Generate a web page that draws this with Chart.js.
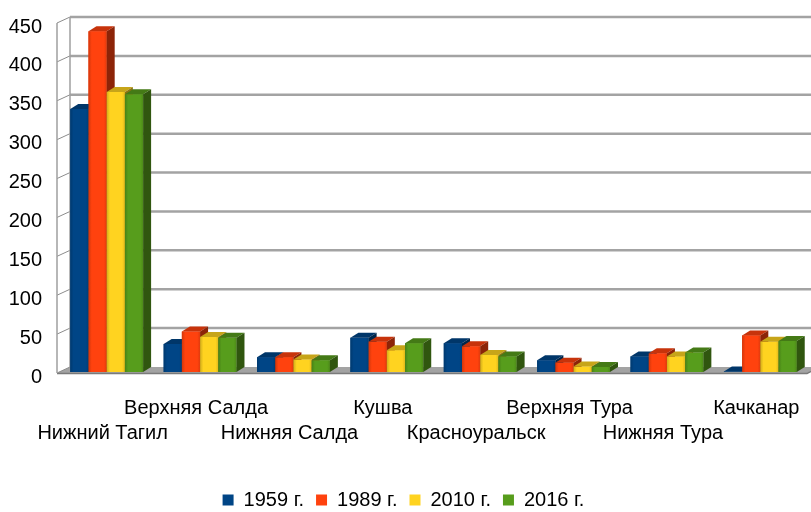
<!DOCTYPE html>
<html>
<head>
<meta charset="utf-8">
<script src="https://cdn.jsdelivr.net/npm/chart.js@4.4.1/dist/chart.umd.min.js"></script>
<style>
  html, body { margin: 0; padding: 0; background: #fff; overflow: hidden; }
  #wrap { width: 811px; height: 520px; }
</style>
</head>
<body>
<div id="wrap"><canvas id="chart"></canvas></div>
<script>
const categories = ['Нижний Тагил', 'Верхняя Салда', 'Нижняя Салда', 'Кушва',
  'Красноуральск', 'Верхняя Тура', 'Нижняя Тура', 'Качканар'];
const seriesNames = ['1959 г.', '1989 г.', '2010 г.', '2016 г.'];
const values1959 = [338, 36, 19, 44, 37, 15, 20, 0.5];
const values1989 = [438, 52, 19, 39, 33, 12, 24, 47];
const values2010 = [360, 45, 16, 28, 22, 7, 20, 39];
const values2016 = [357, 44, 15, 37, 20, 6.5, 25, 40];
const yMin = 0, yMax = 450, yStep = 50;

const colors = ['#004586', '#ff420e', '#ffd320', '#579d1c'];
const WALL = { x: 13, y: -6 };     // depth of the back wall
const BAR = { x: 8, y: -5 };       // depth of each bar

function shade(hex, f) {
  const n = parseInt(hex.slice(1), 16);
  const r = Math.round(((n >> 16) & 255) * f);
  const g = Math.round(((n >> 8) & 255) * f);
  const b = Math.round((n & 255) * f);
  return `rgb(${r},${g},${b})`;
}

function quad(ctx, pts) {
  ctx.beginPath();
  ctx.moveTo(pts[0], pts[1]);
  for (let i = 2; i < pts.length; i += 2) ctx.lineTo(pts[i], pts[i + 1]);
  ctx.closePath();
  ctx.fill();
}

// back wall, left wall and floor
const wallsPlugin = {
  id: 'walls',
  beforeDatasetsDraw(chart) {
    const { ctx, chartArea: a, scales: { y } } = chart;
    const fl = a.left - 3;                 // front left edge
    const bl = fl + WALL.x;                // back left edge
    const fy = v => y.getPixelForValue(v) + 1;
    const by = v => fy(v) + WALL.y;
    ctx.save();

    // floor
    ctx.fillStyle = '#a3a3a3';
    quad(ctx, [fl, fy(yMin), a.right, fy(yMin), a.right + WALL.x, by(yMin), bl, by(yMin)]);
    ctx.strokeStyle = '#7a7a7a';
    ctx.lineWidth = 1.5;
    ctx.beginPath();
    ctx.moveTo(fl, fy(yMin) + 0.5);
    ctx.lineTo(a.right, fy(yMin) + 0.5);
    ctx.lineTo(a.right + WALL.x, by(yMin));
    ctx.stroke();

    // grid on back wall and on left wall
    y.ticks.forEach(t => {
      const v = t.value;
      ctx.strokeStyle = '#a3a3a3';
      ctx.lineWidth = 2.5;
      if (v !== yMin) {
        ctx.beginPath();
        ctx.moveTo(bl, by(v));
        ctx.lineTo(chart.width, by(v));
        ctx.stroke();
      }
      ctx.strokeStyle = '#8c8c8c';
      ctx.lineWidth = 1;
      ctx.beginPath();
      ctx.moveTo(fl, fy(v));
      ctx.lineTo(bl, by(v));
      ctx.stroke();
    });

    // wall edges
    ctx.strokeStyle = '#a0a0a0';
    ctx.lineWidth = 1.5;
    ctx.beginPath();
    ctx.moveTo(fl, fy(yMax));
    ctx.lineTo(fl, fy(yMin));
    ctx.moveTo(bl, by(yMax));
    ctx.lineTo(bl, by(yMin));
    ctx.stroke();
    ctx.restore();
  }
};

// redraw bars as boxes, category by category so the faces overlap right
const barsPlugin = {
  id: 'bars3d',
  afterDatasetsDraw(chart) {
    const { ctx } = chart;
    const metas = chart.data.datasets.map((d, i) => chart.getDatasetMeta(i));
    ctx.save();
    for (let j = 0; j < categories.length; j++) {
      metas.forEach((meta, i) => {
        const bar = meta.data[j];
        if (!bar) return;
        const { x, y, base, width } = bar.getProps(['x', 'y', 'base', 'width'], true);
        const l = x - width / 2, r = x + width / 2;
        const c = colors[i];

        const g = ctx.createLinearGradient(l, 0, r, 0);
        g.addColorStop(0, shade(c, 0.82));
        g.addColorStop(0.18, c);
        g.addColorStop(0.85, c);
        g.addColorStop(1, shade(c, 0.88));
        ctx.fillStyle = g;
        ctx.fillRect(l, y, width, base - y);

        ctx.fillStyle = shade(c, 0.78);
        quad(ctx, [l, y, r, y, r + BAR.x, y + BAR.y, l + BAR.x, y + BAR.y]);

        ctx.fillStyle = shade(c, 0.55);
        quad(ctx, [r, y, r + BAR.x, y + BAR.y, r + BAR.x, base + BAR.y, r, base]);
      });
    }
    ctx.restore();
  }
};

function noPadding(scale) {
  scale.paddingTop = 0;
  scale.paddingBottom = 0;
  scale.paddingLeft = 0;
  scale.paddingRight = 0;
}

Chart.defaults.font.family = '"Liberation Sans", Arial, sans-serif';
Chart.defaults.color = '#000';

const seriesValues = [values1959, values1989, values2010, values2016];

new Chart(document.getElementById('chart'), {
  type: 'bar',
  data: {
    labels: categories,
    datasets: seriesNames.map((name, i) => ({
      label: name,
      data: seriesValues[i],
      backgroundColor: colors[i],
      borderWidth: 0,
      categoryPercentage: 0.78,
      barPercentage: 1.0
    }))
  },
  options: {
    responsive: true,
    maintainAspectRatio: false,
    animation: false,
    layout: { padding: { top: 22, right: 4, bottom: 0, left: 0 } },
    plugins: {
      legend: {
        position: 'bottom',
        labels: {
          boxWidth: 11,
          boxHeight: 11,
          padding: 12,
          font: { size: 20 }
        }
      },
      tooltip: { enabled: false }
    },
    scales: {
      x: {
        grid: { display: false, drawTicks: false },
        border: { display: false },
        afterFit: scale => { scale.height = 106; noPadding(scale); },
        ticks: {
          autoSkip: false,
          maxRotation: 0,
          padding: 24,
          labelOffset: -4,
          font: { size: 20, lineHeight: 1.25 },
          callback: function (value, index) {
            const name = this.getLabelForValue(value);
            return index % 2 ? [name, ''] : ['', name];
          }
        }
      },
      y: {
        min: yMin,
        max: yMax,
        grid: { display: false, drawTicks: false },
        border: { display: false },
        afterFit: scale => { scale.width = 60; noPadding(scale); },
        ticks: {
          stepSize: yStep,
          padding: 18,
          labelOffset: 5,
          font: { size: 20 }
        }
      }
    }
  },
  plugins: [wallsPlugin, barsPlugin]
});
</script>
</body>
</html>
